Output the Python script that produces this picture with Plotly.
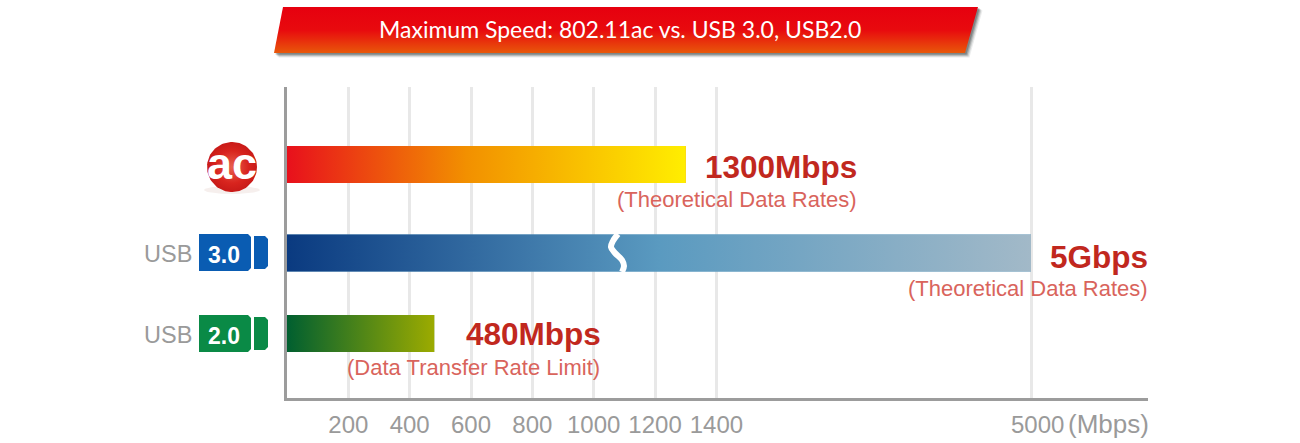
import numpy as np
import plotly.graph_objects as go

# ---- data ----
series_names = ["802.11ac", "USB 3.0", "USB 2.0"]
speeds_mbps = [1300, 5000, 480]
value_labels = ["1300Mbps", "5Gbps", "480Mbps"]
notes = ["(Theoretical Data Rates)", "(Theoretical Data Rates)", "(Data Transfer Rate Limit)"]
tick_values = [200, 400, 600, 800, 1000, 1200, 1400, 5000]
tick_labels = ["200", "400", "600", "800", "1000", "1200", "1400", "\u00a0\u00a05000"]
title_text = "Maximum Speed: 802.11ac vs. USB 3.0, USB2.0"

# ---- layout / style ----
W, H = 1300, 443
X0, X1, Y_TOP, Y_BOT = 287, 1148, 87, 398
PX_PER_UNIT = 0.3067
BROKEN_AT, BROKEN_POS = 1400, (1031 - X0) / PX_PER_UNIT
ROW_CENTRE_PX = [164.5, 253, 333.5]
BAR_HEIGHT_PX = 37
GRADIENTS = [
    [[0, "#e8101c"], [0.45, "#f29000"], [1, "#ffee00"]],
    [[0, "#0a3a80"], [0.5, "#5a9ac0"], [1, "#a2b9c8"]],
    [[0, "#005f30"], [1, "#9cab00"]],
]
MID = ["#f29000", "#5a9ac0", "#4f8518"]
DARK_RED, SOFT_RED, GREY = "#c1281e", "#d9645c", "#9a9a9a"
FONT = "Liberation Sans"


def axis_pos(v):
    """Broken x scale: linear up to 1400, compressed from there to 5000."""
    return np.interp(v, [0, BROKEN_AT, 5000], [0, BROKEN_AT, BROKEN_POS])


fig = go.Figure()

# bars, on the main axes
positions = [float(axis_pos(v)) for v in speeds_mbps]
fig.add_trace(go.Bar(
    y=ROW_CENTRE_PX, x=positions, orientation="h", width=BAR_HEIGHT_PX,
    marker=dict(color=MID, line=dict(width=0)), name="Maximum speed",
    customdata=speeds_mbps, text=series_names, textposition="none",
    hovertemplate="%{text}: %{customdata} Mbps<extra></extra>",
))
for row, pos, grad in zip(ROW_CENTRE_PX, positions, GRADIENTS):
    t, b = row - BAR_HEIGHT_PX / 2, row + BAR_HEIGHT_PX / 2
    fig.add_trace(go.Scatter(
        x=[0, pos, pos, 0, 0], y=[t, t, b, b, t], mode="lines", fill="toself",
        line=dict(width=0), fillgradient=dict(type="horizontal", colorscale=grad),
        hoverinfo="skip", showlegend=False,
    ))


def over(**kw):
    fig.add_trace(go.Scatter(xaxis="x2", yaxis="y2", showlegend=False, hoverinfo="skip", **kw))


# break in the USB 3.0 bar
over(x=[618, 613, 611, 615, 622, 624, 622], y=[234, 241, 247, 253, 260, 266, 272], mode="lines",
     line=dict(color="white", width=6, shape="spline"))

# banner
for off, op in ((9, .10), (7, .18), (5, .28), (3, .35)):
    over(x=[283 + off, 978 + off * .5, 965 + off * .5, 274 + off * .5, 283 + off],
         y=[7 + off * .4, 7 + off * .4, 53 + off * .5, 53 + off * .5, 7 + off * .4],
         mode="lines", fill="toself", line=dict(width=0), fillcolor="rgba(60,70,70,%g)" % op)
over(x=[283, 978, 965, 274, 283], y=[7, 7, 53, 53, 7], mode="lines", fill="toself", line=dict(width=0),
     fillgradient=dict(type="vertical", colorscale=[[0, "#e8580a"], [0.5, "#e80a0e"], [1, "#e6000f"]]))

# ac logo
th = np.linspace(0, 2 * np.pi, 90)
over(x=232 + 28 * np.cos(th), y=190 + 4 * np.sin(th), mode="lines", fill="toself", line=dict(width=0),
     fillcolor="rgba(180,120,110,0.12)")
over(x=232 + 25 * np.cos(th), y=167 + 25 * np.sin(th), mode="lines", fill="toself", line=dict(width=0),
     fillgradient=dict(type="radial", colorscale=[[0, "#e86050"], [0.65, "#d8241e"], [1, "#c81a18"]]))


def rounded(x0, x1, y0, y1, color):
    r = 3
    over(x=[x0, x1 - r, x1, x1, x1 - r, x0, x0], y=[y0, y0, y0 + r, y1 - r, y1, y1, y0], mode="lines",
         fill="toself", line=dict(width=0), fillcolor=color)


rounded(199, 251, 234, 271, "#0a5cb2")
rounded(254, 268, 236, 269, "#0a5cb2")
rounded(199, 251, 315, 352, "#0a8a46")
rounded(254, 268, 317, 350, "#0a8a46")

annotations = []


def label(x, y, text, size, color, anchor="left", bold=False, font=FONT):
    annotations.append(dict(
        xref="x2", yref="y2", x=x, y=y, text=("<b>%s</b>" % text) if bold else text, showarrow=False,
        xanchor=anchor, yanchor="middle", font=dict(family=font, size=size, color=color),
    ))


label(620, 29, title_text, 23, "white", "center", font="Lato")
label(232, 163, "<b>ac</b>", 45, "white", "center")
label(194, 254, "USB", 23.5, GREY, "right")
label(194, 335, "USB", 23.5, GREY, "right")
label(224, 255, "3.0", 23, "white", "center", True)
label(224, 336, "2.0", 23, "white", "center", True)
label(703, 167, value_labels[0], 31.5, DARK_RED, bold=True)
label(1150, 257, value_labels[1], 31.5, DARK_RED, "right", True)
label(464, 334, value_labels[2], 31.5, DARK_RED, bold=True)
label(859, 199, notes[0], 22, SOFT_RED, "right")
label(1150, 288, notes[1], 22, SOFT_RED, "right")
label(602, 367, notes[2], 22, SOFT_RED, "right")
label(1151, 424, "(Mbps)", 26, GREY, "right")

fig.update_layout(
    width=W, height=H, margin=dict(l=0, r=0, t=0, b=0), autosize=False,
    paper_bgcolor="white", plot_bgcolor="rgba(0,0,0,0)", showlegend=False, barmode="overlay",
    annotations=annotations,
    xaxis=dict(
        domain=[X0 / W, X1 / W], range=[0, (X1 - X0) / PX_PER_UNIT], anchor="y",
        tickmode="array", tickvals=[float(axis_pos(v)) for v in tick_values], ticktext=tick_labels,
        tickfont=dict(family=FONT, size=24, color=GREY), ticks="", ticklabelstandoff=3,
        showgrid=True, gridcolor="#e8e8e8", gridwidth=3, zeroline=False,
        showline=True, linecolor="#9c9c9c", linewidth=3, fixedrange=True,
    ),
    yaxis=dict(
        domain=[(H - Y_BOT) / H, (H - Y_TOP) / H], range=[Y_BOT, Y_TOP], anchor="x",
        showticklabels=False, ticks="", showgrid=False, zeroline=False,
        showline=True, linecolor="#9c9c9c", linewidth=3, fixedrange=True,
    ),
    xaxis2=dict(domain=[0, 1], range=[0, W], anchor="y2", visible=False, fixedrange=True),
    yaxis2=dict(domain=[0, 1], range=[H, 0], anchor="x2", visible=False, fixedrange=True),
)

fig.write_html("out.html", config=dict(displayModeBar=False),
               post_script="document.body.style.margin='0';document.body.style.overflow='hidden';")
